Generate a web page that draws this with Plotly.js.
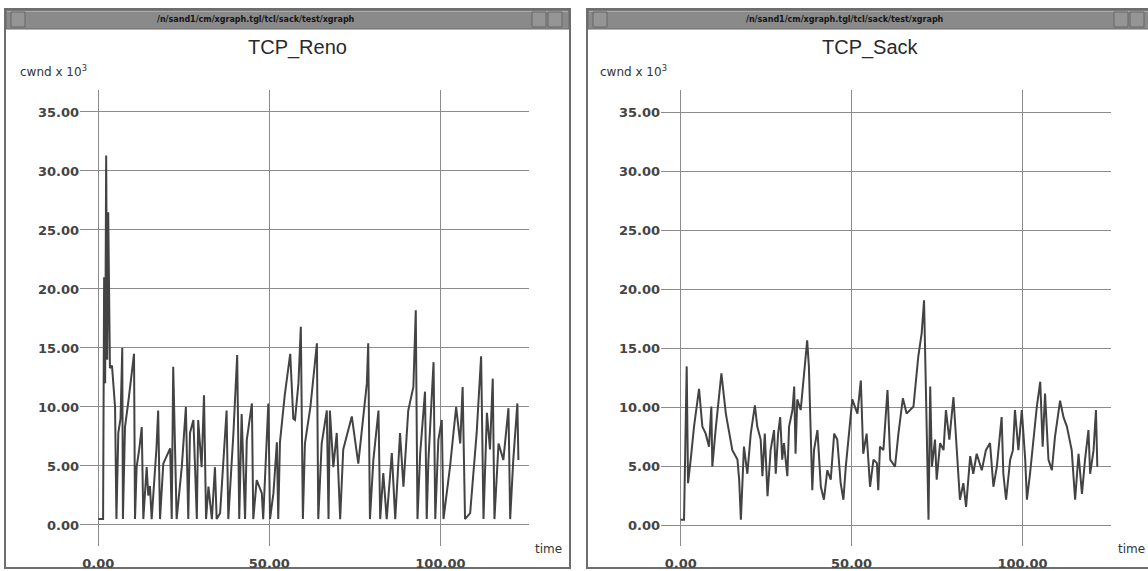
<!DOCTYPE html>
<html>
<head>
<meta charset="utf-8">
<script src="https://cdn.plot.ly/plotly-3.0.1.min.js"></script>
<style>html,body{margin:0;padding:0;background:#fff;}#chart{width:1148px;height:571px;}</style>
</head>
<body>
<div id="chart"></div>
<script>
// ---- data (time in s, cwnd in units of 10^3) ----
const renoTime = [0,1.4,1.7,2.0,2.3,2.6,2.9,3.1,3.4,4.0,4.9,5.3,5.85,6.5,7.0,7.2,7.8,8.8,9.76,10.44,10.73,11.2,12.0,12.7,13.16,14.14,14.6,15.1,15.6,16.5,17.0,17.5,18.04,19.0,20.0,21.0,21.46,21.9,22.9,24.4,25.6,26.3,26.8,27.8,28.8,29.2,30.2,30.9,31.5,32.2,33.2,34.1,34.6,35.6,37.5,38.0,39.5,40.6,41.2,41.9,42.9,43.4,44.9,45.3,46.3,47.8,48.2,49.2,49.7,50.2,51.2,52.2,52.6,53.1,54.5,56.1,57.0,57.5,58.5,59.2,59.8,60.4,62.0,63.9,64.3,65.3,66.8,67.3,67.7,68.7,69.7,70.7,71.6,74.1,76.0,78.5,78.9,79.4,80.4,81.9,82.4,83.3,84.3,85.8,86.8,88.2,89.2,90.6,92.1,92.8,93.3,94.1,95.5,96.0,96.5,98.0,98.5,99.4,100.4,100.9,102.8,104.6,105.8,106.5,107.2,108.7,110.6,111.9,112.6,113.6,114.5,115.3,115.8,117.0,118.4,119.9,120.4,121.3,122.5,122.8];
const renoCwnd = [0.5,0.5,21,12,31.3,14,26.5,17.5,13.3,13.5,10,0.5,7.8,9,15,0.5,8.3,10.5,13.1,14.5,0.5,4.9,6.5,8.3,0.5,4.9,2.5,3.3,0.5,4.5,6.5,9.7,0.5,5.2,5.8,6.5,0.5,13.4,0.5,4.9,10,0.5,7.8,8.9,0.5,8.9,4.9,11,0.5,3.25,0.5,4.9,0.5,1.0,9.7,0.5,7.8,14.4,0.5,9.4,0.5,7.2,10.3,0.5,3.8,2.7,0.5,6.4,10.3,0.5,2.7,7,0.5,7,11,14.5,9,8.9,12,16.8,0.5,6.9,10,15.4,0.5,6.9,9.7,0.5,9.7,4.9,7.8,0.5,6.4,9.2,5.2,12,15.4,0.5,5.5,9.7,0.5,4.4,0.5,6.1,0.5,7.8,3.25,9.7,11.7,18.2,0.5,6.1,11.3,0.5,5.5,13.8,0.5,7.2,8.9,0.5,4.9,10,6.9,11.7,0.5,1.0,7.8,14.3,0.5,9.5,6.4,12.4,0.5,6.9,5.5,9.9,0.5,5.5,10.3,5.5];

const sackTime = [0,0.97,1.75,2.14,2.92,3.89,5.36,6.33,7.3,8.28,8.96,9.25,10.2,11.9,13.2,13.8,15.1,16.6,17.1,17.6,18.5,19.5,20.5,21.7,22.4,23.4,23.9,24.6,25.4,26.3,27.3,27.8,28.5,29.1,29.7,30.2,31.2,31.7,32.7,33.2,33.6,34.1,35.1,36.1,37.0,37.5,38.2,38.5,39.0,40.0,41.0,41.9,42.9,43.9,44.9,45.8,46.8,47.6,48.3,49.2,50.2,51.7,52.7,53.4,54.4,55.4,56.4,57.4,57.8,58.3,59.3,60.5,61.3,62.7,63.7,65.0,66.1,68.1,69.5,70.5,71.2,71.8,72.5,73.0,73.5,74.4,74.9,75.9,76.9,77.6,78.6,79.8,80.8,81.7,82.7,83.5,84.7,85.6,86.6,88.1,89.3,90.5,91.5,92.5,93.9,94.4,95.2,96.4,97.2,97.8,98.8,99.8,100.8,101.3,102.2,103.2,104.2,105.2,105.9,106.6,107.6,108.6,109.5,111.0,112.0,113.0,114.4,115.4,116.4,117.4,118.3,119.3,119.8,120.8,121.5,121.9];
const sackCwnd = [0.5,0.5,13.5,3.6,5.6,8.4,11.6,8.4,7.8,6.7,10.1,5.0,8.1,12.9,9.5,8.4,6.4,5.6,3.9,0.5,6.7,4.4,7.8,10.2,8.4,7.3,4.2,7.8,2.5,6.4,8.1,4.4,7.8,9.2,5.6,7.0,4.2,8.4,9.8,11.8,6.1,10.7,9.8,12.9,15.7,13.5,6.7,3.0,6.4,8.1,3.3,2.2,4.7,3.9,7.8,7.3,3.6,2.2,5.0,7.8,10.7,9.5,12.3,6.1,7.8,3.3,5.6,5.3,3.0,6.7,6.4,11.5,5.6,5.0,7.8,10.8,9.5,10.1,14.3,16.3,19.1,10.7,0.5,11.8,5.0,7.3,3.9,7.0,6.4,9.8,7.3,10.9,5.9,2.2,3.6,1.6,5.9,4.4,6.1,4.7,6.4,7.0,3.3,5.0,9.2,4.4,2.2,5.6,6.4,9.8,6.4,9.8,5.6,2.2,4.4,7.3,10.1,12.2,6.7,11.2,5.6,4.7,7.5,10.6,9.2,8.4,6.4,2.2,6.1,2.7,5.6,8.1,4.4,6.4,9.8,5.0];

const xTicks = [0, 50, 100];
const yTicks = [0, 5, 10, 15, 20, 25, 30, 35];
const panelTitles = ["TCP_Reno", "TCP_Sack"];
const yLabel = "cwnd x 10<sup>3</sup>";
const xLabel = "time";
const windowCaption = "/n/sand1/cm/xgraph.tgl/tcl/sack/test/xgraph";

// ---- layout helpers (pixel -> paper) ----
const W = 1148, H = 571;
const px = x => x / W;
const py = y => 1 - y / H;

const tickFont = {family: "DejaVu Sans", size: 13, color: "#444444", weight: "bold"};
const lineStyle = {color: "#434343", width: 2};

function axisX(domain, range, anchor) {
  return {domain, range, anchor, tickvals: xTicks, tickformat: ".2f", showgrid: true,
    gridcolor: "#8c8c8c", gridwidth: 1, zeroline: false, showline: false, ticks: "",
    tickfont: tickFont, ticklabelstandoff: 8, fixedrange: true};
}
function axisY(domain, range, anchor) {
  return {domain, range, anchor, tickvals: yTicks, tickformat: ".2f", showgrid: true,
    gridcolor: "#8c8c8c", gridwidth: 1, zeroline: false, showline: false, ticks: "",
    tickfont: tickFont, ticklabelstandoff: 0, fixedrange: true};
}

const traces = [
  {x: renoTime, y: renoCwnd, type: "scatter", mode: "lines", line: lineStyle, xaxis: "x", yaxis: "y", hoverinfo: "skip"},
  {x: sackTime, y: sackCwnd, type: "scatter", mode: "lines", line: lineStyle, xaxis: "x2", yaxis: "y2", hoverinfo: "skip"}
];

// window frames
const windows = [{x0: 5, x1: 570, cx: 256, tx: 297, lx: 18, timeX: 548}, {x0: 587, x1: 1152, cx: 845, tx: 870, lx: 598, timeX: 1131}];
const shapes = [];
const annotations = [];
windows.forEach((w, i) => {
  shapes.push({type: "rect", xref: "paper", yref: "paper", x0: px(w.x0), x1: px(w.x1), y0: py(568), y1: py(9),
    line: {color: "#6e6e6e", width: 2}, fillcolor: "rgba(0,0,0,0)", layer: "below"});
  shapes.push({type: "rect", xref: "paper", yref: "paper", x0: px(w.x0 + 1), x1: px(w.x1 - 1), y0: py(29), y1: py(10),
    line: {color: "#6a6a6a", width: 1}, fillcolor: "#8a8a8a", layer: "below"});
  shapes.push({type: "line", xref: "paper", yref: "paper", x0: px(w.x0 + 2), x1: px(w.x1 - 2), y0: py(11.5), y1: py(11.5),
    line: {color: "#aaaaaa", width: 1}, layer: "below"});
  // buttons
  [[w.x0 + 6, w.x0 + 20], [w.x1 - 38, w.x1 - 24], [w.x1 - 22, w.x1 - 8]].forEach(b => {
    shapes.push({type: "rect", xref: "paper", yref: "paper", x0: px(b[0]), x1: px(b[1]), y0: py(27), y1: py(12),
      line: {color: "#666666", width: 1}, fillcolor: "#959595", layer: "below"});
  });
  annotations.push({text: windowCaption, xref: "paper", yref: "paper", x: px(w.cx), y: py(19.5), showarrow: false,
    xanchor: "center", yanchor: "middle", font: {family: "DejaVu Sans", size: 8, color: "#151515", weight: "bold"}});
  annotations.push({text: panelTitles[i], xref: "paper", yref: "paper", x: px(w.tx), y: py(47), showarrow: false,
    xanchor: "center", yanchor: "middle", font: {family: "Liberation Sans", size: 20, color: "#2a2a2a"}});
  annotations.push({text: yLabel, xref: "paper", yref: "paper", x: px(w.lx), y: py(71), showarrow: false,
    xanchor: "left", yanchor: "middle", font: {family: "DejaVu Sans", size: 12, color: "#333"}});
  annotations.push({text: xLabel, xref: "paper", yref: "paper", x: px(w.timeX), y: py(549), showarrow: false,
    xanchor: "center", yanchor: "middle", font: {family: "DejaVu Sans", size: 12, color: "#333"}});
});

const layout = {
  width: W, height: H,
  margin: {l: 0, r: 0, t: 0, b: 0, pad: 0},
  paper_bgcolor: "#ffffff", plot_bgcolor: "rgba(0,0,0,0)",
  showlegend: false,
  xaxis: axisX([px(80), px(529)], [-5.35, 125.9], "y"),
  yaxis: axisY([py(546), py(90)], [-1.78, 36.86], "x"),
  xaxis2: axisX([px(661), px(1111)], [-5.77, 125.9], "y2"),
  yaxis2: axisY([py(546), py(90)], [-1.72, 36.92], "x2"),
  shapes, annotations
};

Plotly.newPlot("chart", traces, layout, {staticPlot: true, displayModeBar: false});
</script>
</body>
</html>
